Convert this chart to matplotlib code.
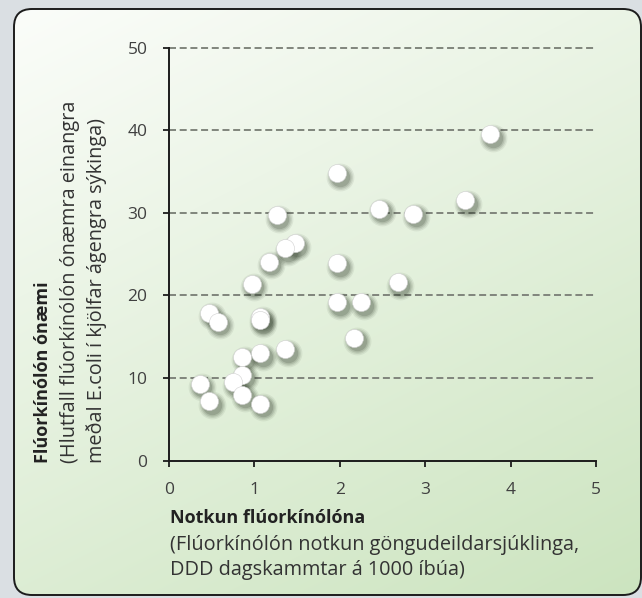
import numpy as np
import matplotlib
matplotlib.use("Agg")
import matplotlib.pyplot as plt
from matplotlib.patches import FancyBboxPatch
from matplotlib.transforms import offset_copy

# fluoroquinolone use (DDD / 1000 inhabitants) vs. resistance (%)
use_ddd = [3.76, 1.97, 3.47, 2.46, 2.86, 1.26, 1.47, 1.36, 1.17, 1.97,
           2.68, 0.97, 1.97, 2.25, 0.47, 0.57, 1.07, 1.07, 2.17, 1.36,
           1.07, 0.86, 0.86, 0.75, 0.36, 0.86, 0.47, 1.07]
resistance = [39.5, 34.8, 31.5, 30.5, 29.9, 29.7, 26.3, 25.7, 24.1, 23.9,
              21.6, 21.4, 19.2, 19.2, 17.9, 16.8, 17.4, 17.0, 14.9, 13.5,
              13.0, 12.6, 10.4, 9.5, 9.3, 8.0, 7.2, 6.9]
x_ticks = [0, 1, 2, 3, 4, 5]
y_ticks = [0, 10, 20, 30, 40, 50]

x_title = "Notkun flúorkínólóna"
x_sub = ["(Flúorkínólón notkun göngudeildarsjúklinga,",
         "DDD dagskammtar á 1000 íbúa)"]
y_title = "Flúorkínólón ónæmi"
y_sub = ["(Hlutfall flúorkínólón ónæmra einangra",
         "meðal E.coli í kjölfar ágengra sýkinga)"]

W, H = 642, 598
FONT = "Open Sans"

fig = plt.figure(figsize=(W / 100, H / 100), dpi=100)
fig.patch.set_facecolor("#dadfe3")

# background panel, 1 data unit = 1 pixel
bg = fig.add_axes([0, 0, 1, 1], zorder=0)
bg.set_xlim(0, W)
bg.set_ylim(H, 0)
bg.axis("off")

box = FancyBboxPatch((14, 9), 627, 586,
                     boxstyle="round,pad=0,rounding_size=18",
                     fc="none", ec="#1c1c1c", lw=1.4, zorder=3)
bg.add_patch(box)

gx, gy = np.meshgrid(np.linspace(0, 1, 300), np.linspace(0, 1, 300))
t = (0.35 * gx + 0.65 * gy)[..., None]
c0 = np.array([0.985, 0.992, 0.980])
c1 = np.array([0.800, 0.895, 0.750])
grad = c0 * (1 - t) + c1 * t
im = bg.imshow(grad, extent=(14, 641, 595, 9), origin="upper",
               aspect="auto", zorder=1, interpolation="bilinear")
im.set_clip_path(box)

# axis labels
bg.text(170, 518, x_title, fontsize=13, fontweight="bold", family=FONT,
        color="#222222", ha="left", va="center")
for i, line in enumerate(x_sub):
    bg.text(170, 545 + 25 * i, line, fontsize=14.3, family=FONT,
            color="#333333", ha="left", va="center")

bg.text(43, 463, y_title, fontsize=13, fontweight="bold", family=FONT,
        color="#222222", ha="center", va="bottom", rotation=90)
for i, line in enumerate(y_sub):
    bg.text(70 + 27 * i, 463, line, fontsize=14.3, family=FONT,
            color="#333333", ha="center", va="bottom", rotation=90)

# plot area
x0, x1 = 169, 596
y0, y1 = 460.7, 47.5
ax = fig.add_axes([x0 / W, (H - y0) / H, (x1 - x0) / W, (y0 - y1) / H],
                  zorder=2)
ax.patch.set_alpha(0)
ax.set_xlim(0, 5)
ax.set_ylim(0, 50)
ax.set_xticks(x_ticks)
ax.set_yticks(y_ticks)
for side in ["top", "right"]:
    ax.spines[side].set_visible(False)
for side in ["left", "bottom"]:
    ax.spines[side].set_color("#1c1c1c")
    ax.spines[side].set_linewidth(1.4)
ax.tick_params(direction="out", length=4.5, width=1.3, color="#1c1c1c",
               labelsize=12.5, labelcolor="#404040")
ax.tick_params(axis="y", pad=11)
ax.tick_params(axis="x", pad=11)
for lab in ax.get_xticklabels() + ax.get_yticklabels():
    lab.set_family(FONT)

for yv in y_ticks[1:]:
    ax.axhline(yv, color="#80857c", lw=1.4, ls=(0, (3.6, 1.9)),
               zorder=1, clip_on=False)

# soft drop shadows
shadow = offset_copy(ax.transData, fig=fig, x=2.5, y=-3.5, units="dots")
for d, a in [(20, 0.07), (18, 0.09), (16, 0.12), (14, 0.16)]:
    ax.scatter(use_ddd, resistance, s=d ** 2, color="#1e2a18", alpha=a,
               lw=0, transform=shadow, zorder=3, clip_on=False)

ax.scatter(use_ddd, resistance, s=13 ** 2, color="white",
           edgecolors="#d0d0d0", linewidths=0.4, zorder=4, clip_on=False)

fig.savefig("out.png", dpi=100, facecolor=fig.get_facecolor())
